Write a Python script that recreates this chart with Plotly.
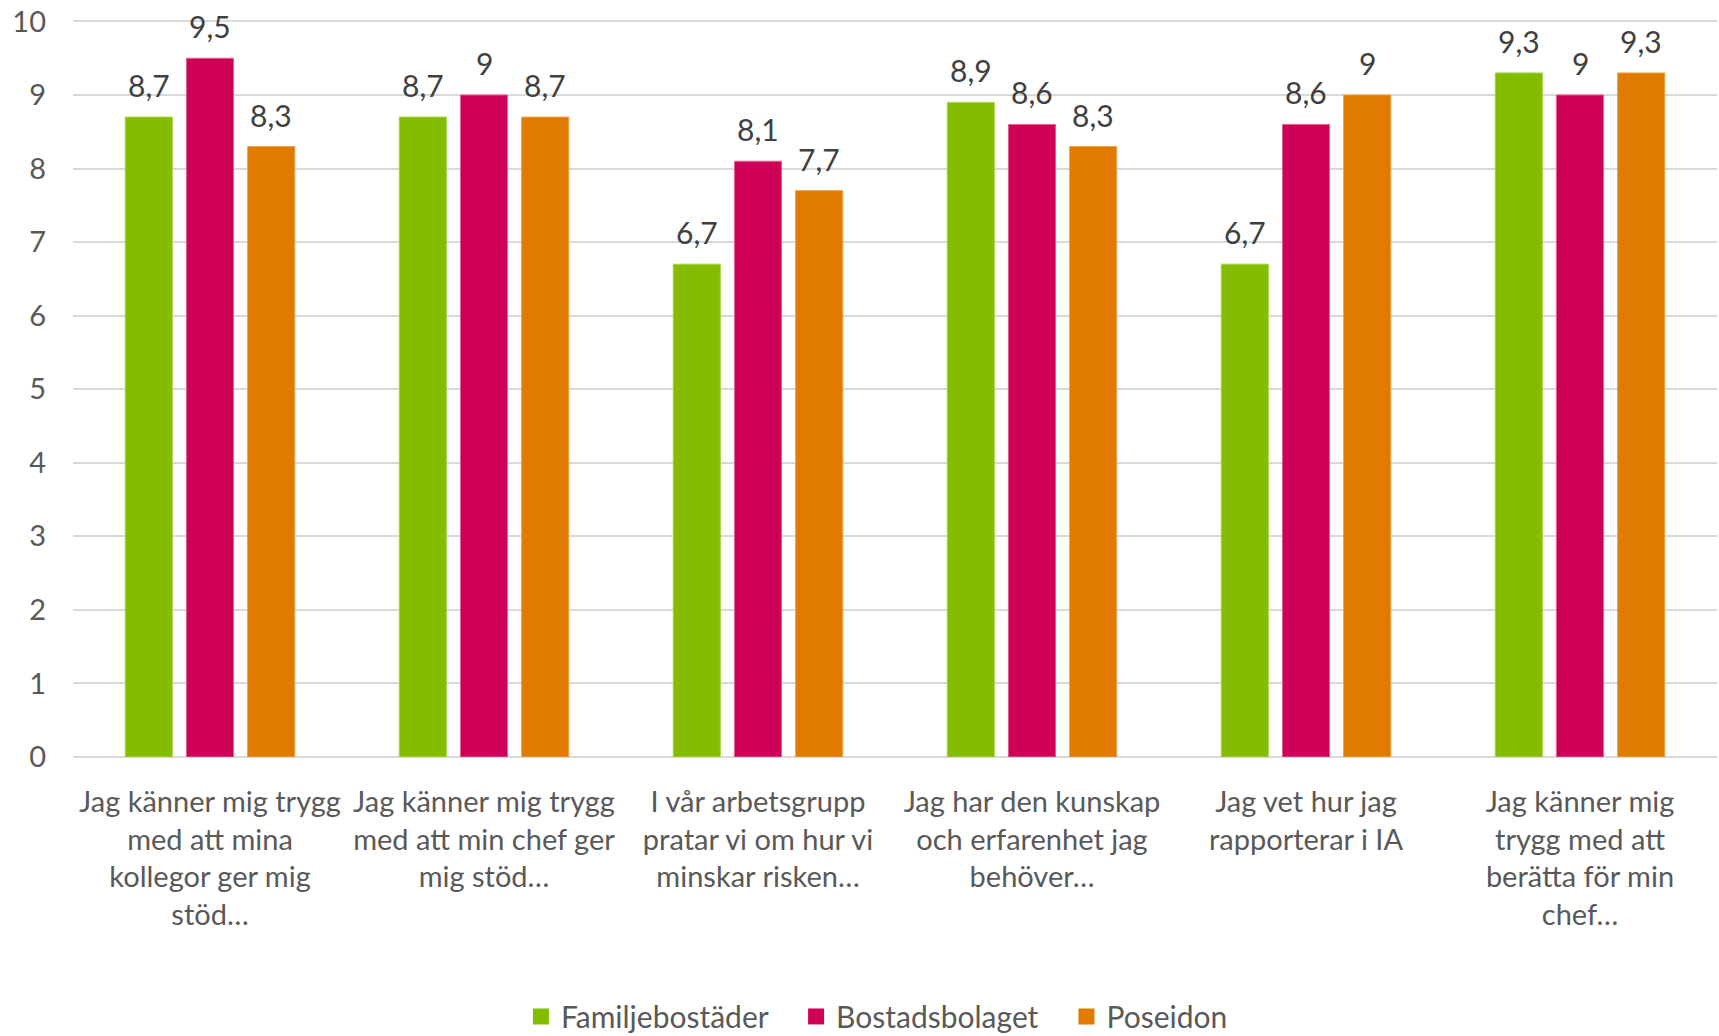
import plotly.graph_objects as go

categories = [
    "Jag känner mig trygg<br>med att mina<br>kollegor ger mig<br>stöd…",
    "Jag känner mig trygg<br>med att min chef ger<br>mig stöd…",
    "I vår arbetsgrupp<br>pratar vi om hur vi<br>minskar risken…",
    "Jag har den kunskap<br>och erfarenhet jag<br>behöver…",
    "Jag vet hur jag<br>rapporterar i IA",
    "Jag känner mig<br>trygg med att<br>berätta för min<br>chef…",
]
familjebostader = [8.7, 8.7, 6.7, 8.9, 6.7, 9.3]
bostadsbolaget = [9.5, 9.0, 8.1, 8.6, 8.6, 9.0]
poseidon = [8.3, 8.7, 7.7, 8.3, 9.0, 9.3]

series = [
    ("Familjebostäder", familjebostader, "#84bd00", "#a8d24a"),
    ("Bostadsbolaget", bostadsbolaget, "#ce0058", "#e06090"),
    ("Poseidon", poseidon, "#e07b00", "#f0a040"),
]

def fmt(v):
    return ("%g" % v).replace(".", ",")

FONT = "Lato, Open Sans, sans-serif"
SLOT = 61  # px offset between grouped bars
PAD = "\u00a0" * 3

fig = go.Figure()
for k, (name, vals, col, edge) in enumerate(series):
    fig.add_trace(go.Bar(
        name=name, x=categories, y=vals, showlegend=False,
        marker=dict(color=col, line=dict(color=edge, width=1)),
    ))
    for c, v in zip(categories, vals):
        fig.add_annotation(x=c, y=v, text=fmt(v), showarrow=False,
                           xshift=(k - 1) * SLOT, yshift=32, yanchor="middle",
                           font=dict(size=30, color="#404040", family=FONT))
# legend entries with larger square swatches
for k, (name, vals, col, edge) in enumerate(series):
    fig.add_trace(go.Scatter(
        x=[None], y=[None], mode="markers", showlegend=True,
        name=name + (PAD if k < len(series) - 1 else ""),
        marker=dict(symbol="square", size=18, color=col),
    ))

fig.update_layout(
    width=1719, height=1036,
    paper_bgcolor="white", plot_bgcolor="white",
    margin=dict(l=73, r=2, t=20, b=279, autoexpand=False),
    barmode="group", bargap=0.33, bargroupgap=0.23,
    font=dict(family=FONT, size=29, color="#595959"),
    legend=dict(orientation="h", x=0.489, xanchor="center", y=-0.352, yanchor="middle",
                font=dict(size=30, color="#595959"), traceorder="normal"),
)
fig.update_yaxes(range=[0, 10.02], tickvals=list(range(0, 11)), showgrid=True,
                 gridcolor="#d9d9d9", gridwidth=1.5,
                 zeroline=True, zerolinecolor="#d9d9d9", zerolinewidth=1.5,
                 showline=False, ticks="", ticklabelstandoff=26, automargin=False,
                 tickfont=dict(size=29, color="#595959"))
fig.update_xaxes(showline=False, ticks="", tickangle=0, ticklabelstandoff=25, automargin=False,
                 tickfont=dict(size=29, color="#595959"))

fig.write_html("out.html", config={"displayModeBar": False},
               post_script="document.body.style.margin='0px';")
